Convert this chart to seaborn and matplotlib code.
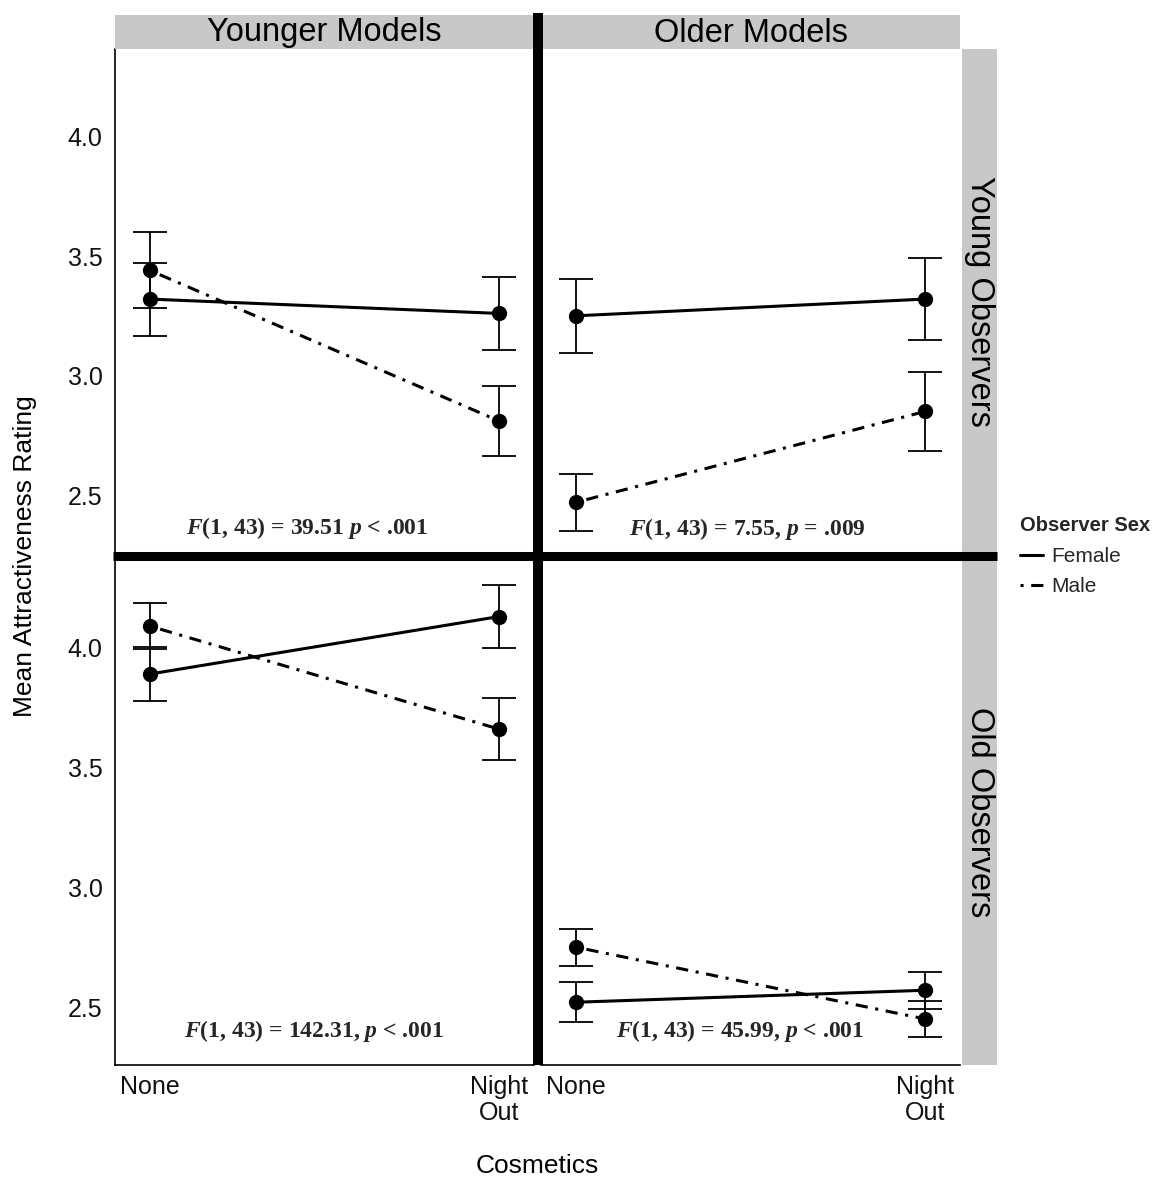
import numpy as np
import pandas as pd
import matplotlib
matplotlib.use("Agg")
import matplotlib.pyplot as plt
from matplotlib.lines import Line2D
from matplotlib.patches import Rectangle
import seaborn as sns

# ---------------- data ----------------
cosmetics = ["None", "Night\nOut"]
model_age = ["Younger Models", "Older Models"]
observer_age = ["Young Observers", "Old Observers"]
sexes = ["Female", "Male"]

# means (None, Night Out)
young_obs_younger_female = [3.32, 3.26]
young_obs_younger_male = [3.44, 2.81]
young_obs_older_female = [3.25, 3.32]
young_obs_older_male = [2.47, 2.85]
old_obs_younger_female = [3.89, 4.13]
old_obs_younger_male = [4.09, 3.66]
old_obs_older_female = [2.52, 2.57]
old_obs_older_male = [2.75, 2.45]

# standard errors (None, Night Out)
se_young_obs_younger_female = [0.153, 0.151]
se_young_obs_younger_male = [0.159, 0.145]
se_young_obs_older_female = [0.155, 0.170]
se_young_obs_older_male = [0.120, 0.164]
se_old_obs_younger_female = [0.114, 0.132]
se_old_obs_younger_male = [0.096, 0.129]
se_old_obs_older_female = [0.084, 0.078]
se_old_obs_older_male = [0.077, 0.075]

stats_text = [
    [r"$\mathit{F}$(1, 43) = 39.51 $\mathit{p}$ < .001",
     r"$\mathit{F}$(1, 43) = 7.55, $\mathit{p}$ = .009"],
    [r"$\mathit{F}$(1, 43) = 142.31, $\mathit{p}$ < .001",
     r"$\mathit{F}$(1, 43) = 45.99, $\mathit{p}$ < .001"],
]
stats_x = [[0.45, 0.49], [0.47, 0.47]]
stats_y = [[2.362, 2.358], [2.40, 2.40]]

means = {
    (0, 0): (young_obs_younger_female, young_obs_younger_male),
    (0, 1): (young_obs_older_female, young_obs_older_male),
    (1, 0): (old_obs_younger_female, old_obs_younger_male),
    (1, 1): (old_obs_older_female, old_obs_older_male),
}
ses = {
    (0, 0): (se_young_obs_younger_female, se_young_obs_younger_male),
    (0, 1): (se_young_obs_older_female, se_young_obs_older_male),
    (1, 0): (se_old_obs_younger_female, se_old_obs_younger_male),
    (1, 1): (se_old_obs_older_female, se_old_obs_older_male),
}

rows = []
for (r, c), (fm, mm) in means.items():
    fs, ms = ses[(r, c)]
    for sex, mv, sv in (("Female", fm, fs), ("Male", mm, ms)):
        for i, cos in enumerate(cosmetics):
            rows.append(dict(row=r, col=c, sex=sex, cos=cos, pos=i,
                             mean=mv[i], se=sv[i]))
df = pd.DataFrame(rows)

# ---------------- style ----------------
sns.set_style("white")
plt.rcParams["font.family"] = ["Liberation Sans", "DejaVu Sans"]
plt.rcParams["mathtext.fontset"] = "custom"
plt.rcParams["mathtext.rm"] = "Liberation Serif:bold"
plt.rcParams["mathtext.it"] = "Liberation Serif:italic:bold"
plt.rcParams["mathtext.bf"] = "Liberation Serif:bold"

W, H = 1152, 1178
fig = plt.figure(figsize=(W / 100, H / 100), dpi=100)
fig.patch.set_facecolor("white")


def fx(px):
    return px / W


def fy(py):
    return 1 - py / H


col_px = [(115, 534), (541, 960)]
row_px = [(49, 553), (560, 1065)]
YLIM = (2.258, 4.366)
XLIM = (-0.1, 1.1)
dash_male = (1, 2.5, 4, 2.5)

for r in range(2):
    for c in range(2):
        x0, x1 = col_px[c]
        y0, y1 = row_px[r]
        ax = fig.add_axes([fx(x0), fy(y1), (x1 - x0) / W, (y1 - y0) / H])
        sub = df[(df.row == r) & (df.col == c)]
        for sex in sexes:
            s = sub[sub.sex == sex]
            ax.errorbar(s["pos"], s["mean"], yerr=s["se"], fmt="none",
                        ecolor="black", elinewidth=1.3, capsize=12.5,
                        capthick=1.3, zorder=1)
        sns.lineplot(data=sub, x="pos", y="mean", style="sex",
                     style_order=sexes,
                     dashes={"Female": "", "Male": dash_male},
                     markers={"Female": "o", "Male": "o"},
                     markersize=11, markeredgecolor="black",
                     markeredgewidth=0, color="black", linewidth=2.2,
                     legend=False, errorbar=None, ax=ax, zorder=3)
        ax.set_xlim(*XLIM)
        ax.set_ylim(*YLIM)
        ax.set_xlabel("")
        ax.set_ylabel("")
        ax.set_xticks(range(len(cosmetics)))
        ax.set_yticks([2.5, 3.0, 3.5, 4.0])
        for sp in ax.spines.values():
            sp.set_visible(False)
        ax.tick_params(axis="both", length=5, width=1.1, color="#8a8a8a",
                       labelsize=18, labelcolor="#111111")
        ax.tick_params(axis="y", pad=4)
        ax.tick_params(axis="x", pad=2)
        if c == 0:
            ax.spines["left"].set_visible(True)
            ax.spines["left"].set_color("black")
            ax.spines["left"].set_linewidth(1.2)
            ax.set_yticklabels(["2.5", "3.0", "3.5", "4.0"])
        else:
            ax.tick_params(axis="y", left=False, labelleft=False)
        if r == 1:
            ax.spines["bottom"].set_visible(True)
            ax.spines["bottom"].set_color("black")
            ax.spines["bottom"].set_linewidth(1.2)
            ax.set_xticklabels(cosmetics, linespacing=1.1)
        else:
            ax.tick_params(axis="x", bottom=False, labelbottom=False)
        ax.text(stats_x[r][c], stats_y[r][c], stats_text[r][c],
                ha="center", va="center", fontsize=17,
                family="Liberation Serif", weight="bold", zorder=5)

# strips
strip_col = "#c8c8c8"
for c in range(2):
    x0, x1 = col_px[c]
    fig.patches.append(Rectangle((fx(x0), fy(49)), (x1 - x0) / W, 34 / H,
                                 transform=fig.transFigure,
                                 facecolor=strip_col, edgecolor="none",
                                 zorder=0))
    fig.text(fx((x0 + x1) / 2), fy(33), model_age[c], ha="center",
             va="center", fontsize=23.5, color="black")
for r in range(2):
    y0, y1 = row_px[r]
    fig.patches.append(Rectangle((fx(962), fy(y1)), 35 / W, (y1 - y0) / H,
                                 transform=fig.transFigure,
                                 facecolor=strip_col, edgecolor="none",
                                 zorder=0))
    fig.text(fx(979.5), fy((y0 + y1) / 2), observer_age[r], ha="center",
             va="center", rotation=-90, fontsize=23.5, color="black")

# thick separators
fig.add_artist(Line2D([fx(538), fx(538)], [fy(13), fy(1065)],
                      transform=fig.transFigure, color="black", lw=7.2,
                      solid_capstyle="butt", zorder=10))
fig.add_artist(Line2D([fx(113), fx(997)], [fy(556), fy(556)],
                      transform=fig.transFigure, color="black", lw=6.5,
                      solid_capstyle="butt", zorder=10))

# axis titles
fig.text(fx(25), fy(556), "Mean Attractiveness Rating", rotation=90,
         ha="center", va="center", fontsize=19, color="black")
fig.text(fx(537), fy(1166), "Cosmetics", ha="center", va="center",
         fontsize=19, color="black")

# legend
handles = [Line2D([], [], color="black", lw=2.2),
           Line2D([], [], color="black", lw=2.2, dashes=dash_male)]
leg = fig.legend(handles, sexes, title="Observer Sex", loc="upper left",
                 bbox_to_anchor=(fx(1012), fy(508)), frameon=False,
                 fontsize=15, handlelength=1.1, handletextpad=0.4,
                 labelspacing=0.55, borderaxespad=0,
                 title_fontproperties={"weight": "bold", "size": 14.5},
                 alignment="left")

fig.savefig("out.png", dpi=100, facecolor="white")
